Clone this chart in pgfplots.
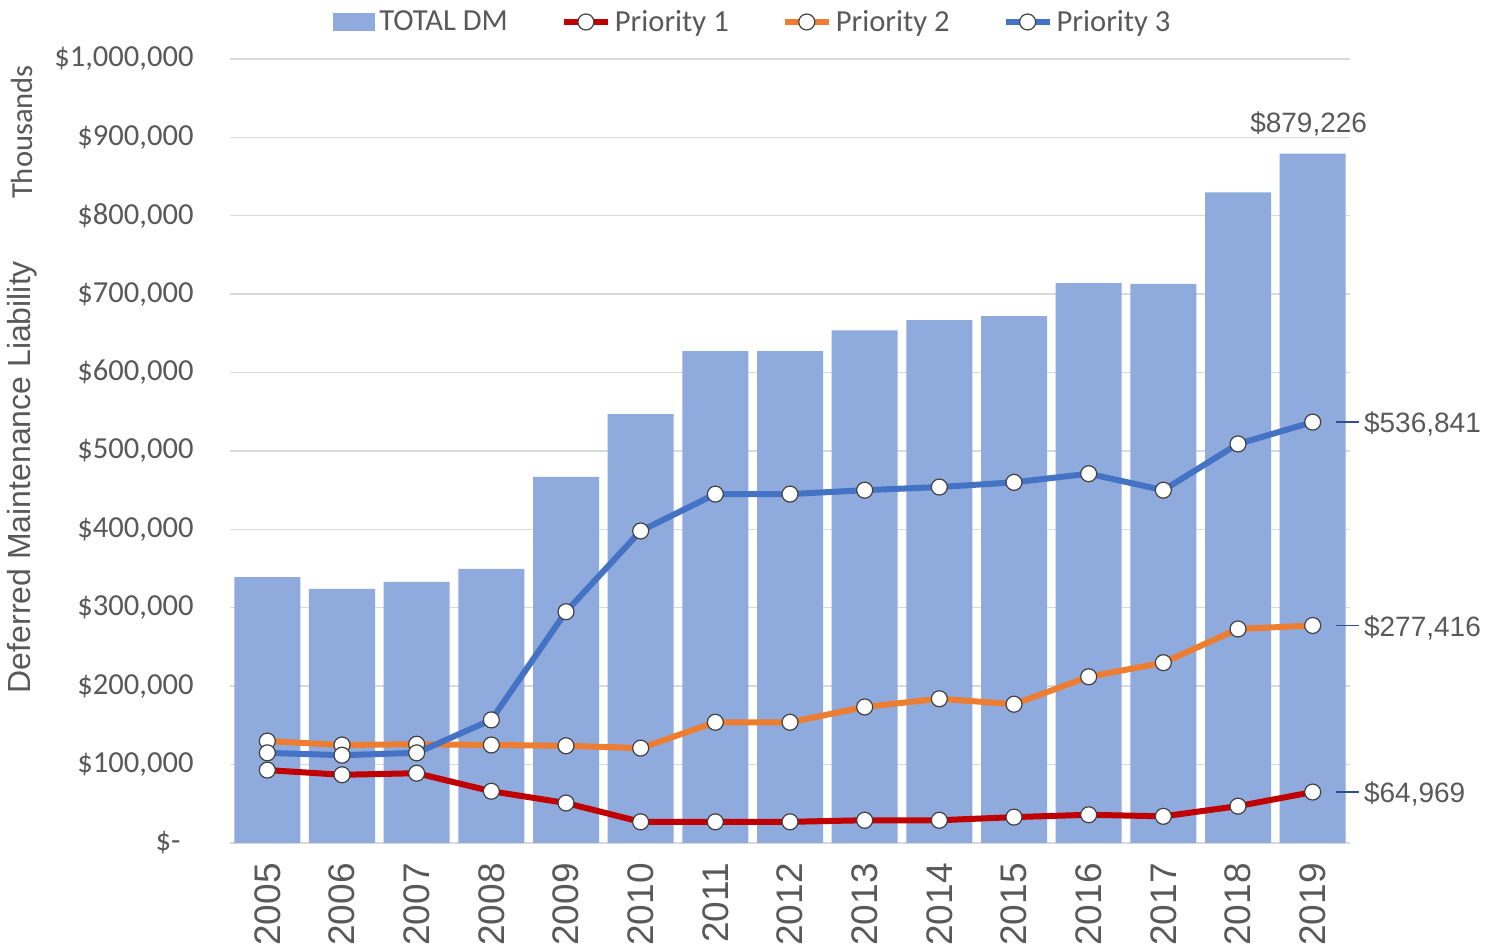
\documentclass[border=0pt]{standalone}
\usepackage{fontspec}
\setmainfont{Carlito}
\newfontfamily\arial{Liberation Sans}
\usepackage{pgfplots}
\pgfplotsset{compat=1.18}

\definecolor{barblue}{HTML}{8FAADC}
\definecolor{pone}{HTML}{C00000}
\definecolor{ptwo}{HTML}{ED7D31}
\definecolor{pthree}{HTML}{4472C4}
\definecolor{txt}{HTML}{595959}
\definecolor{gridc}{HTML}{D9D9D9}
\definecolor{leader}{HTML}{2F4F8F}

\pgfplotsset{prio legend/.style={legend image code/.code={
    \draw[##1, line width=3pt] (0pt,0pt) -- (22pt,0pt);
    \draw[##1, line width=0.6pt, mark size=3.5pt] plot coordinates {(11pt,0pt)};}}}

\tikzset{dlabel/.style={anchor=west, inner sep=0pt, text=txt,
    font=\arial\fontsize{14}{16}\selectfont, xshift=25.5pt, yshift=-1pt},
  lead/.style={leader, line width=0.7pt}}

\begin{document}
\begin{tikzpicture}
\begin{axis}[
    at={(0,0)}, anchor=south west,
    scale only axis,
    width=560pt, height=392pt,
    xmin=-0.5, xmax=14.5,
    ymin=0, ymax=1000000,
    clip=false,
    axis line style={draw=none},
    major tick length=0pt,
    ymajorgrids,
    major grid style={gridc, line width=0.7pt},
    scaled y ticks=false,
    xtick={0,...,14},
    xticklabels={2005,2006,2007,2008,2009,2010,2011,2012,2013,2014,2015,2016,2017,2018,2019},
    xticklabel style={yshift=-10pt, rotate=90, anchor=east, inner sep=0pt,
        font=\arial\fontsize{18.5}{20}\selectfont, text=txt},
    ytick={0,100000,...,1000000},
    yticklabels={{\$-\rule{6.5pt}{0pt}},{\$100,000},{\$200,000},{\$300,000},{\$400,000},{\$500,000},{\$600,000},{\$700,000},{\$800,000},{\$900,000},{\$1,000,000}},
    yticklabel style={anchor=east, inner sep=0pt, xshift=-18pt,
        font=\fontsize{15.3}{17}\selectfont, text=txt},
    /pgf/number format/assume math mode=true,
    legend columns=4,
    legend style={at={(rel axis cs:0.092,1)}, yshift=18.5pt, anchor=west,
        draw=none, fill=none, inner sep=0pt,
        font=\fontsize{15.3}{17}\selectfont, text=txt,
        nodes={inner sep=2pt},
        /tikz/every even column/.append style={column sep=24.5pt}},
    every axis plot/.append style={line width=3pt},
    mark options={fill=white, draw=black!75, line width=0.6pt, mark size=4pt},
]

% total deferred maintenance (bars)
\addplot[ybar, bar width=33pt, bar shift=0pt, fill=barblue, draw=none,
    legend image code/.code={\fill[barblue] (0pt,-4.5pt) rectangle (21pt,4.5pt);}]
coordinates {
    (0,339000) (1,324000) (2,333000) (3,349500) (4,467000)
    (5,547000) (6,627500) (7,627500) (8,654000) (9,667000)
    (10,672000) (11,714000) (12,713000) (13,830000) (14,879226)
};
\addlegendentry{TOTAL DM}

\addplot[pone, mark=*, prio legend] coordinates {
    (0,93000) (1,87000) (2,89000) (3,66000) (4,51000)
    (5,27000) (6,27000) (7,27000) (8,29000) (9,29000)
    (10,33000) (11,36000) (12,34000) (13,47000) (14,64969)
};
\addlegendentry{Priority 1}

\addplot[ptwo, mark=*, prio legend] coordinates {
    (0,130000) (1,125000) (2,126000) (3,125000) (4,124000)
    (5,121000) (6,154000) (7,154000) (8,173500) (9,184000)
    (10,177000) (11,212000) (12,230000) (13,273000) (14,277416)
};
\addlegendentry{Priority 2}

\addplot[pthree, mark=*, prio legend] coordinates {
    (0,115000) (1,112000) (2,115000) (3,157000) (4,295000)
    (5,398000) (6,445000) (7,445000) (8,450000) (9,454000)
    (10,460000) (11,471000) (12,450000) (13,509000) (14,536841)
};
\addlegendentry{Priority 3}

% data labels
\node[anchor=base, text=txt, font=\arial\fontsize{14}{16}\selectfont, xshift=-2pt, yshift=10.5pt]
    at (axis cs:14,879226) {\$879,226};
\draw[lead] (axis cs:14,536841) ++(11.5pt,0pt) -- ++(11.5pt,0pt);
\node[dlabel] at (axis cs:14,536841) {\$536,841};
\draw[lead] (axis cs:14,277416) ++(11.5pt,0pt) -- ++(11.5pt,0pt);
\node[dlabel] at (axis cs:14,277416) {\$277,416};
\draw[lead] (axis cs:14,64969) ++(11.5pt,0pt) -- ++(11.5pt,0pt);
\node[dlabel] at (axis cs:14,64969) {\$64,969};

% axis titles
\node[rotate=90, text=txt, font=\arial\fontsize{16}{18}\selectfont]
    at (rel axis cs:-0.1857,0.4668) {Deferred Maintenance Liability};
\node[rotate=90, text=txt, font=\fontsize{15.3}{17}\selectfont]
    at (rel axis cs:-0.1857,0.9069) {Thousands};
\end{axis}
\pgfresetboundingbox
\path[use as bounding box] (-115pt,-51pt) rectangle (633.5pt,421.5pt);
\end{tikzpicture}
\end{document}
